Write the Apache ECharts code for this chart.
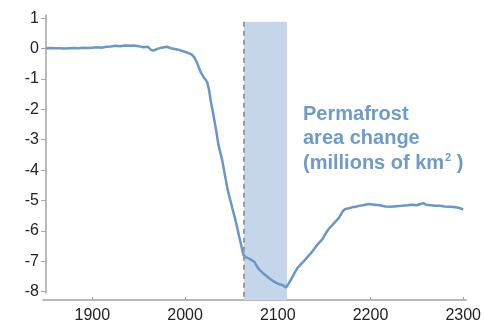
<!DOCTYPE html>
<html>
<head>
<meta charset="utf-8">
<script src="https://cdn.jsdelivr.net/npm/echarts@6/dist/echarts.min.js"></script>
<style>
  html, body { margin: 0; padding: 0; background: #fff; }
  #chart { width: 484px; height: 324px; }
</style>
</head>
<body>
<div id="chart"></div>
<script>
// Permafrost area change over time (millions of km²)
const years = [
  1850, 1855, 1860, 1865, 1870, 1875, 1880, 1885, 1890, 1895,
  1900, 1905, 1910, 1915, 1920, 1925, 1930, 1935, 1940, 1945,
  1950, 1955, 1960, 1963, 1966, 1970, 1975, 1980, 1985, 1990,
  1994, 1998, 2003, 2007, 2010, 2013, 2015, 2017, 2020, 2024,
  2026, 2028, 2030, 2032, 2034, 2036, 2038, 2040, 2043, 2046,
  2049, 2051, 2054, 2057, 2060, 2063, 2066, 2069, 2072, 2075,
  2078, 2081, 2084, 2087, 2090, 2093, 2096, 2099, 2102, 2105,
  2107, 2109, 2112, 2115, 2118, 2121, 2125, 2128, 2132, 2136,
  2140, 2144, 2148, 2152, 2155, 2159, 2162, 2166, 2170, 2173,
  2177, 2180, 2184, 2188, 2192, 2198, 2204, 2210, 2216, 2222,
  2228, 2234, 2240, 2245, 2250, 2254, 2257, 2260, 2265, 2270,
  2275, 2280, 2285, 2290, 2295, 2300
];
const areaChange = [
  0.00, 0.01, 0.00, 0.00, -0.01, 0.00, 0.01, 0.00, 0.02, 0.01,
  0.02, 0.03, 0.02, 0.05, 0.06, 0.08, 0.07, 0.09, 0.08, 0.09,
  0.07, 0.03, 0.05, -0.05, -0.08, -0.02, 0.02, 0.05, 0.00, -0.03,
  -0.06, -0.10, -0.15, -0.20, -0.30, -0.48, -0.65, -0.80, -0.95, -1.13,
  -1.40, -1.80, -2.10, -2.45, -2.80, -3.20, -3.45, -3.70, -4.20, -4.70,
  -5.05, -5.30, -5.65, -6.05, -6.45, -6.85, -6.93, -6.97, -7.02, -7.08,
  -7.25, -7.36, -7.45, -7.52, -7.60, -7.67, -7.73, -7.78, -7.82, -7.84,
  -7.86, -7.92, -7.78, -7.62, -7.45, -7.29, -7.15, -7.06, -6.92, -6.78,
  -6.62, -6.46, -6.33, -6.12, -5.98, -5.85, -5.75, -5.62, -5.40, -5.32,
  -5.30, -5.27, -5.25, -5.22, -5.20, -5.16, -5.18, -5.20, -5.24, -5.25,
  -5.23, -5.22, -5.20, -5.18, -5.20, -5.16, -5.13, -5.18, -5.20, -5.22,
  -5.22, -5.24, -5.25, -5.26, -5.28, -5.34
];
const xTicks = [1900, 2000, 2100, 2200, 2300];
const yTicks = [-8, -7, -6, -5, -4, -3, -2, -1, 0, 1];
// highlighted period
const bandStart = 2063.5;
const bandEnd = 2110;
const bandTop = 0.88;

// shared vertical scale: the plot area reaches down to the x axis,
// while the labelled y axis stops just below -8
const yTop = 1.102;
const yPlotBottom = -8.339;
const yAxisBottom = -8.043;
const xMin = 1846.8;
const xMax = 2303.3;

const axisGrey = '#a3a3a3';
const lineBlue = '#6897c8';
const labelFont = 'Liberation Sans, Arial, sans-serif';

const chart = echarts.init(document.getElementById('chart'), null, { renderer: 'canvas' });

chart.setOption({
  animation: false,
  backgroundColor: '#ffffff',
  grid: [
    { left: 43, right: 14, top: 15, bottom: 22, containLabel: false },
    { left: 43, right: 14, top: 15, bottom: 31, containLabel: false }
  ],
  xAxis: [{
    gridIndex: 0,
    type: 'value',
    min: xMin,
    max: xMax,
    splitLine: { show: false },
    axisLine: { show: true, onZero: false, lineStyle: { color: axisGrey, width: 1.5 } },
    axisTick: { show: true, inside: true, length: 3, customValues: xTicks, lineStyle: { color: axisGrey, width: 1 } },
    axisLabel: {
      customValues: xTicks,
      formatter: v => String(v),
      color: '#222',
      fontSize: 16,
      fontFamily: labelFont,
      margin: 8
    }
  }, {
    gridIndex: 1,
    type: 'value',
    min: xMin,
    max: xMax,
    show: false
  }],
  yAxis: [{
    gridIndex: 0,
    type: 'value',
    min: yPlotBottom,
    max: yTop,
    show: false
  }, {
    gridIndex: 1,
    type: 'value',
    min: yAxisBottom,
    max: yTop,
    offset: -3,
    splitLine: { show: false },
    axisLine: { show: true, onZero: false, lineStyle: { color: axisGrey, width: 1.5 } },
    axisTick: { show: true, customValues: yTicks, length: 5, lineStyle: { color: axisGrey, width: 1 } },
    axisLabel: {
      customValues: yTicks,
      color: '#222',
      fontSize: 16,
      fontFamily: labelFont,
      margin: 7
    }
  }],
  series: [{
    type: 'line',
    xAxisIndex: 0,
    yAxisIndex: 0,
    data: years.map((y, i) => [y, areaChange[i]]),
    showSymbol: false,
    z: 3,
    lineStyle: { color: lineBlue, width: 2.5 },
    markArea: {
      silent: true,
      itemStyle: { color: '#c6d6ea' },
      data: [[
        { xAxis: bandStart, yAxis: bandTop },
        { xAxis: bandEnd, yAxis: yPlotBottom }
      ]]
    },
    markLine: {
      silent: true,
      symbol: ['none', 'none'],
      label: { show: false },
      lineStyle: { color: '#9a9a9a', width: 2, type: [5, 4] },
      data: [[
        { coord: [bandStart, bandTop] },
        { coord: [bandStart, yPlotBottom] }
      ]]
    }
  }],
  graphic: [{
    type: 'text',
    left: 303,
    top: 104,
    z: 10,
    style: {
      text: '{a|Permafrost}\n{a|area change}\n{a|(millions of km}{s|2}{a| )}',
      rich: {
        a: { fontSize: 20, fontWeight: 'bold', fontFamily: labelFont, fill: '#6e9bcb', lineHeight: 24.5 },
        s: { fontSize: 11, fontWeight: 'bold', fontFamily: labelFont, fill: '#6e9bcb', lineHeight: 24.5, verticalAlign: 'top', padding: [2, 0, 0, 1] }
      }
    }
  }]
});
</script>
</body>
</html>
